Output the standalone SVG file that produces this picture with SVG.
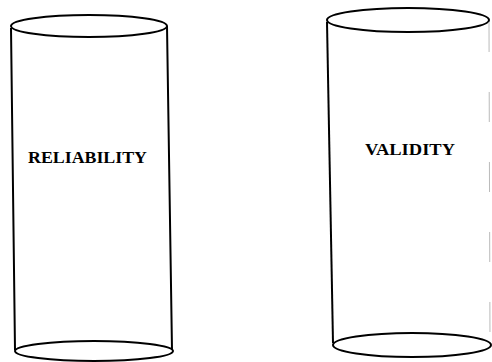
<svg xmlns="http://www.w3.org/2000/svg" width="492" height="362" viewBox="0 0 492 362">
<style>
.c{fill:none;stroke:#000;stroke-width:2}
.t{font-family:"Liberation Serif",serif;font-weight:bold;font-size:16px;fill:#000}
</style>
<rect width="492" height="362" fill="#fff"/>
<g id="reliability">
<ellipse class="c" cx="89" cy="26" rx="78" ry="11"/>
<path class="c" d="M11,28 L15,350 M167,26 L172,350"/>
<ellipse class="c" cx="94" cy="351" rx="79" ry="10"/>
<text class="t" x="28" y="163" textLength="119" lengthAdjust="spacingAndGlyphs">RELIABILITY</text>
</g>
<g id="validity">
<ellipse class="c" cx="408" cy="20" rx="81" ry="12"/>
<path class="c" d="M327,22 L333,343"/>
<path d="M489,22 L490,343" fill="none" stroke="#bbb" stroke-width="1" stroke-dasharray="30 40"/>
<ellipse class="c" cx="412" cy="345" rx="79" ry="12"/>
<text class="t" x="365" y="155" textLength="90" lengthAdjust="spacingAndGlyphs">VALIDITY</text>
</g>
</svg>
